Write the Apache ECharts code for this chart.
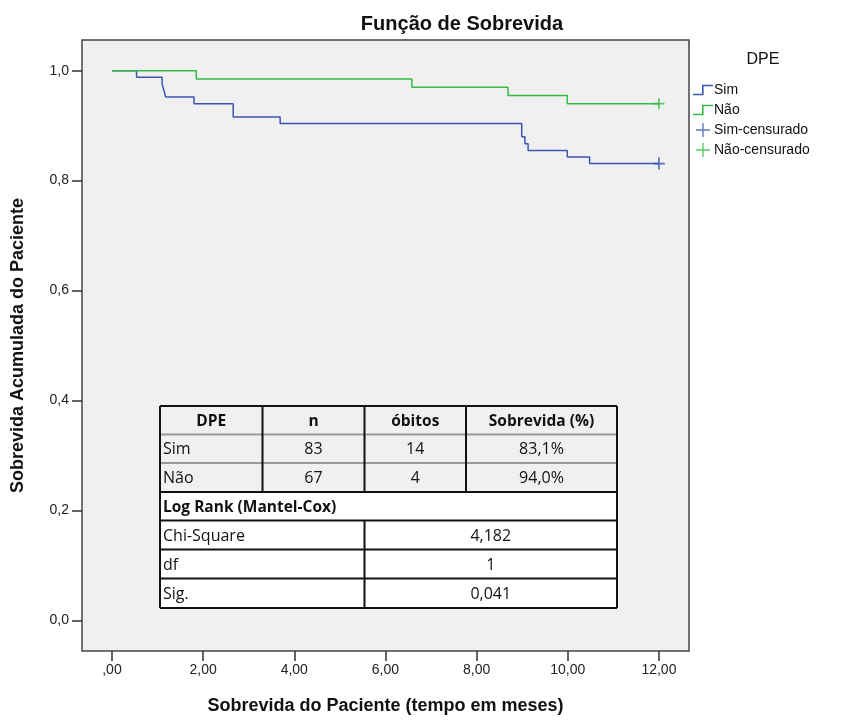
<!DOCTYPE html>
<html><head><meta charset="utf-8">
<script src="https://cdn.jsdelivr.net/npm/echarts@6/dist/echarts.min.js"></script>
<style>html,body{margin:0;padding:0;background:#fff}#c{width:842px;height:720px}</style>
</head><body><div id="c"></div>
<script>
// Kaplan-Meier steps: [time (months), cumulative survival]
const simSteps = [[0,1.0],[0.54,0.988],[1.10,0.976],[1.14,0.964],[1.18,0.952],[1.80,0.940],[2.66,0.916],[3.69,0.904],[8.99,0.880],[9.06,0.867],[9.13,0.855],[9.99,0.843],[10.48,0.831],[12.0,0.831]];
const naoSteps = [[0,1.0],[1.85,0.985],[6.58,0.970],[8.69,0.955],[9.99,0.940],[12.0,0.940]];
const simCensored = [[12.0,0.831]];
const naoCensored = [[12.0,0.940]];
const xTicks = [0,2,4,6,8,10,12];
const yTicks = [0,0.2,0.4,0.6,0.8,1.0];
const legendNames = ['Sim','Não','Sim-censurado','Não-censurado'];
const tableHeader = ['DPE','n','óbitos','Sobrevida (%)'];
const tableRows = [['Sim','83','14','83,1%'],['Não','67','4','94,0%']];
const logRankTitle = 'Log Rank (Mantel-Cox)';
const logRankRows = [['Chi-Square','4,182'],['df','1'],['Sig.','0,041']];

const BLUE = '#3c56b4', GREEN = '#33bb44';
const stepIcon = 'path://M0,9 L9,9 L9,0 L20,0 L20,1.6 L10.6,1.6 L10.6,10.6 L0,10.6 Z';
const plusIcon = 'path://M0,9 L9,9 L9,0 L11,0 L11,9 L20,9 L20,11 L11,11 L11,20 L9,20 L9,11 L0,11 Z';
const plusSym = 'path://M0,8.5 L8.5,8.5 L8.5,0 L11.5,0 L11.5,8.5 L20,8.5 L20,11.5 L11.5,11.5 L11.5,20 L8.5,20 L8.5,11.5 L0,11.5 Z';

const chart = echarts.init(document.getElementById('c'), null, {renderer:'canvas'});

// table graphics
const tX = [160, 262.5, 364.5, 466, 617];
const tY = [406, 434.5, 463, 492, 520.5, 549.5, 578.5, 608];
const tFont = '"Open Sans", "Noto Sans", sans-serif';
const bFont = 'bold 15.5px ' + tFont;
const rFont = '16px ' + tFont;
const g = [];
g.push({type:'rect', shape:{x:tX[0], y:tY[0], width:tX[4]-tX[0], height:tY[3]-tY[0]}, style:{fill:'#f0f0f0'}, z:10});
g.push({type:'rect', shape:{x:tX[0], y:tY[3], width:tX[4]-tX[0], height:tY[7]-tY[3]}, style:{fill:'#ffffff'}, z:10});
for (let i=0;i<tY.length;i++){
  const col = (i>0 && i<3) ? '#9a9a9a' : '#111';
  g.push({type:'line', shape:{x1:tX[0], y1:tY[i], x2:tX[4], y2:tY[i]}, style:{stroke:col, lineWidth:2}, z:12});
}
g.push({type:'line', shape:{x1:tX[0], y1:tY[0], x2:tX[0], y2:tY[7]}, style:{stroke:'#111', lineWidth:2}, z:12});
g.push({type:'line', shape:{x1:tX[4], y1:tY[0], x2:tX[4], y2:tY[7]}, style:{stroke:'#111', lineWidth:2}, z:12});
for (let j=1;j<4;j++){
  g.push({type:'line', shape:{x1:tX[j], y1:tY[0], x2:tX[j], y2:tY[3]}, style:{stroke:'#111', lineWidth:2}, z:12});
}
g.push({type:'line', shape:{x1:tX[2], y1:tY[4], x2:tX[2], y2:tY[7]}, style:{stroke:'#111', lineWidth:2}, z:12});
tableHeader.forEach((h,j)=>{
  g.push({type:'text', x:(tX[j]+tX[j+1])/2, y:(tY[0]+tY[1])/2+1, style:{text:h, font:bFont, fill:'#111', align:'center', verticalAlign:'middle'}, z:14});
});
tableRows.forEach((r,i)=>{
  r.forEach((v,j)=>{
    const cy = (tY[i+1]+tY[i+2])/2+1;
    if (j===0) g.push({type:'text', x:tX[0]+3, y:cy, style:{text:v, font:rFont, fill:'#111', align:'left', verticalAlign:'middle'}, z:14});
    else g.push({type:'text', x:(tX[j]+tX[j+1])/2, y:cy, style:{text:v, font:rFont, fill:'#111', align:'center', verticalAlign:'middle'}, z:14});
  });
});
g.push({type:'text', x:tX[0]+3, y:(tY[3]+tY[4])/2+1, style:{text:logRankTitle, font:bFont, fill:'#111', align:'left', verticalAlign:'middle'}, z:14});
logRankRows.forEach((r,i)=>{
  const cy = (tY[i+4]+tY[i+5])/2+1;
  g.push({type:'text', x:tX[0]+3, y:cy, style:{text:r[0], font:rFont, fill:'#111', align:'left', verticalAlign:'middle'}, z:14});
  g.push({type:'text', x:(tX[2]+tX[4])/2, y:cy, style:{text:r[1], font:rFont, fill:'#111', align:'center', verticalAlign:'middle'}, z:14});
});
g.push({type:'text', x:763, y:60, style:{text:'DPE', font:'16px "Liberation Sans", Arial, sans-serif', fill:'#111', align:'center', verticalAlign:'middle'}, z:14});

const option = {
  animation:false,
  backgroundColor:'#ffffff',
  title:{text:'Função de Sobrevida', left:457, textAlign:'center', top:9,
    textStyle:{fontFamily:'"Liberation Sans", Arial, sans-serif', fontSize:20, fontWeight:'bold', color:'#111'}},
  grid:{left:82, top:40, right:153, bottom:69, show:true, backgroundColor:'#f0f0f0', borderColor:'#444', borderWidth:1.5},
  legend:{orient:'vertical', left:688, top:78, itemGap:6, itemWidth:20, itemHeight:14,
    textStyle:{fontFamily:'"Liberation Sans", Arial, sans-serif', fontSize:14, color:'#111', padding:[0,0,0,-4]},
    data:[
      {name:legendNames[0], icon:stepIcon},
      {name:legendNames[1], icon:stepIcon},
      {name:legendNames[2], icon:plusIcon},
      {name:legendNames[3], icon:plusIcon}
    ]},
  xAxis:{type:'value', min:-0.657, max:12.66,
    name:'Sobrevida do Paciente (tempo em meses)', nameLocation:'middle', nameGap:46,
    nameTextStyle:{fontFamily:'"Liberation Sans", Arial, sans-serif', fontSize:18, fontWeight:'bold', color:'#111'},
    axisLine:{show:false, onZero:false}, splitLine:{show:false},
    axisTick:{show:true, length:10, lineStyle:{color:'#333', width:1.5}, customValues:xTicks},
    axisLabel:{customValues:xTicks, margin:12, fontFamily:'"Liberation Sans", Arial, sans-serif', fontSize:14, color:'#222',
      formatter:v=> v===0 ? ',00' : v.toFixed(2).replace('.',',')}},
  yAxis:{type:'value', min:-0.0559, max:1.0559,
    name:'Sobrevida Acumulada do Paciente', nameLocation:'middle', nameGap:55, nameRotate:90,
    nameTextStyle:{fontFamily:'"Liberation Sans", Arial, sans-serif', fontSize:18, fontWeight:'bold', color:'#111'},
    axisLine:{show:false, onZero:false}, splitLine:{show:false},
    axisTick:{show:true, length:10, lineStyle:{color:'#333', width:1.5}, customValues:yTicks},
    axisLabel:{customValues:yTicks, margin:13, fontFamily:'"Liberation Sans", Arial, sans-serif', fontSize:14, color:'#222',
      formatter:v=> v.toFixed(1).replace('.',',')}},
  series:[
    {name:legendNames[0], type:'line', step:'end', data:simSteps, showSymbol:false, symbol:'none', color:BLUE, lineStyle:{color:BLUE, width:1.5}, z:3},
    {name:legendNames[1], type:'line', step:'end', data:naoSteps, showSymbol:false, symbol:'none', color:GREEN, lineStyle:{color:GREEN, width:1.5}, z:3},
    {name:legendNames[2], type:'scatter', data:simCensored, symbol:plusSym, symbolSize:12, color:BLUE, itemStyle:{color:BLUE}, z:4},
    {name:legendNames[3], type:'scatter', data:naoCensored, symbol:plusSym, symbolSize:11, color:GREEN, itemStyle:{color:GREEN}, z:4}
  ],
  graphic:g
};
chart.setOption(option);
</script></body></html>
